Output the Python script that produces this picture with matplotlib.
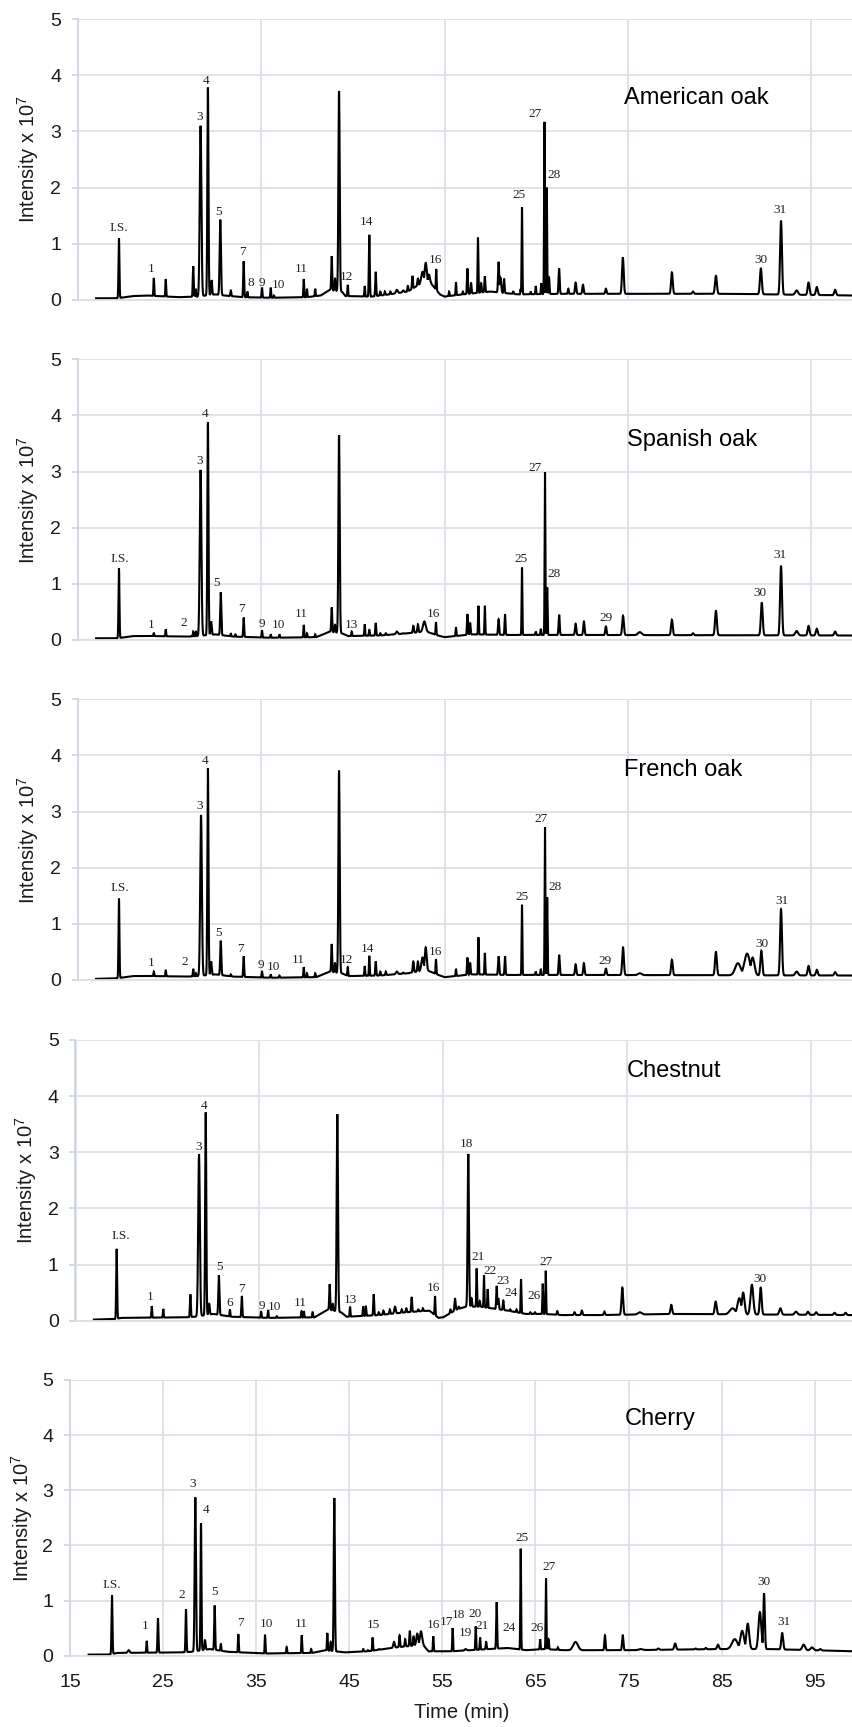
import numpy as np
import matplotlib
matplotlib.use("Agg")
import matplotlib.pyplot as plt

plt.rcParams['font.family'] = ['Liberation Sans', 'DejaVu Sans']
plt.rcParams['mathtext.fontset'] = 'custom'
plt.rcParams['mathtext.rm'] = 'Liberation Sans'
plt.rcParams['mathtext.it'] = 'Liberation Sans'

# ---------------- data (retention time in min, intensity x 10^7) ----------------
# American oak
am_rt = [19.5, 23.3, 24.6, 27.6, 27.85, 28.4, 29.2, 29.6, 30.55, 31.7, 33.1, 33.5, 35.1, 36.05, 36.4,
         39.65, 40.0, 40.9, 42.7, 43.06, 43.5, 44.45, 46.3, 46.8, 47.5, 48.0, 48.5, 49.1, 49.8, 50.5,
         51.0, 51.5, 52.1, 52.6, 52.95, 53.3, 54.1, 55.5, 56.25, 57.0, 57.5, 57.9, 58.65, 59.0, 59.4,
         60.9, 61.1, 61.5, 62.5, 63.3, 63.45, 64.4, 64.95, 65.55, 65.9, 66.15, 66.4, 67.5, 68.5, 69.3,
         70.1, 72.6, 74.45, 79.8, 82.1, 84.6, 89.5, 91.7, 93.4, 94.7, 95.6, 97.6]
am_h = [1.10, 0.39, 0.37, 0.60, 0.20, 3.10, 3.78, 0.35, 1.43, 0.17, 0.69, 0.15, 0.22, 0.22, 0.08,
        0.37, 0.20, 0.20, 0.78, 0.38, 3.72, 0.27, 0.25, 1.16, 0.50, 0.15, 0.15, 0.15, 0.18, 0.17,
        0.25, 0.43, 0.38, 0.50, 0.66, 0.45, 0.55, 0.15, 0.32, 0.15, 0.56, 0.30, 1.11, 0.30, 0.42,
        0.68, 0.40, 0.38, 0.15, 0.20, 1.65, 0.15, 0.25, 0.30, 3.17, 2.00, 0.40, 0.56, 0.20, 0.31,
        0.27, 0.20, 0.76, 0.49, 0.15, 0.43, 0.56, 1.41, 0.17, 0.31, 0.23, 0.18]
am_w = [0.05, 0.04, 0.04, 0.05, 0.04, 0.09, 0.06, 0.06, 0.07, 0.05, 0.05, 0.04, 0.04, 0.04, 0.04,
        0.04, 0.04, 0.04, 0.05, 0.05, 0.07, 0.04, 0.04, 0.05, 0.05, 0.05, 0.05, 0.05, 0.10, 0.08,
        0.05, 0.05, 0.06, 0.15, 0.12, 0.10, 0.04, 0.04, 0.04, 0.04, 0.05, 0.05, 0.04, 0.05, 0.05,
        0.06, 0.08, 0.05, 0.05, 0.03, 0.04, 0.04, 0.04, 0.04, 0.04, 0.04, 0.05, 0.06, 0.05, 0.07,
        0.07, 0.07, 0.09, 0.09, 0.08, 0.10, 0.10, 0.10, 0.15, 0.10, 0.10, 0.10]
am_bt = [17.0, 19.3, 21.0, 22.5, 26.0, 28.0, 30.0, 31.0, 33.0, 36.0, 40.0, 41.5, 42.5, 43.8, 44.2,
         47.0, 49.0, 51.0, 52.0, 53.5, 54.5, 55.0, 57.0, 60.0, 63.0, 68.0, 76.0, 86.0, 99.6]
am_bv = [0.03, 0.03, 0.07, 0.08, 0.05, 0.06, 0.10, 0.08, 0.05, 0.04, 0.05, 0.08, 0.18, 0.15, 0.07,
         0.06, 0.10, 0.15, 0.25, 0.30, 0.10, 0.06, 0.10, 0.15, 0.10, 0.11, 0.11, 0.11, 0.08]
am_lab = ['I.S.', '1', '3', '4', '5', '7', '8', '9', '10', '11', '12', '14', '16', '25', '27', '28', '30', '31']
am_lt = [19.5, 23.0, 28.26, 28.96, 30.34, 32.95, 33.93, 35.1, 36.9, 39.35, 44.33, 46.5, 53.97, 63.12, 64.87, 66.95, 89.5, 91.6]
am_lv = [1.28, 0.55, 3.26, 3.90, 1.57, 0.85, 0.30, 0.31, 0.27, 0.56, 0.41, 1.38, 0.72, 1.86, 3.31, 2.23, 0.72, 1.61]

# Spanish oak
sp_rt = [19.5, 23.3, 24.6, 27.6, 27.9, 28.4, 29.2, 29.55, 30.6, 31.7, 32.2, 33.1, 35.1, 36.05, 37.0,
         39.65, 40.0, 40.9, 42.7, 43.06, 43.5, 44.88, 46.3, 46.8, 47.5, 48.0, 48.6, 49.8, 50.5, 51.6,
         52.1, 52.8, 54.07, 56.25, 57.5, 57.8, 58.7, 59.4, 60.9, 61.6, 63.45, 64.95, 65.5, 65.96, 66.2,
         67.5, 69.3, 70.2, 72.6, 74.47, 76.3, 79.8, 82.1, 84.6, 89.6, 91.7, 93.4, 94.7, 95.6, 97.6]
sp_h = [1.28, 0.13, 0.19, 0.15, 0.15, 3.03, 3.88, 0.33, 0.85, 0.12, 0.10, 0.40, 0.17, 0.10, 0.10,
        0.27, 0.12, 0.10, 0.58, 0.27, 3.65, 0.15, 0.28, 0.18, 0.30, 0.12, 0.12, 0.15, 0.12, 0.25,
        0.28, 0.33, 0.32, 0.23, 0.46, 0.30, 0.61, 0.61, 0.37, 0.46, 1.29, 0.15, 0.20, 2.99, 0.94,
        0.45, 0.29, 0.33, 0.24, 0.43, 0.14, 0.36, 0.12, 0.52, 0.66, 1.32, 0.16, 0.25, 0.20, 0.15]
sp_w = [0.05, 0.04, 0.04, 0.04, 0.04, 0.09, 0.06, 0.06, 0.06, 0.04, 0.04, 0.05, 0.04, 0.04, 0.04,
        0.04, 0.04, 0.04, 0.05, 0.05, 0.07, 0.04, 0.04, 0.04, 0.05, 0.05, 0.05, 0.10, 0.06, 0.06,
        0.06, 0.15, 0.04, 0.04, 0.05, 0.05, 0.04, 0.04, 0.06, 0.05, 0.04, 0.04, 0.04, 0.04, 0.04,
        0.06, 0.07, 0.07, 0.07, 0.09, 0.20, 0.09, 0.08, 0.10, 0.10, 0.10, 0.15, 0.10, 0.10, 0.10]
sp_bt = [17.0, 19.3, 21.0, 23.0, 27.0, 28.0, 30.0, 32.0, 36.0, 41.0, 42.5, 43.8, 44.5, 48.0, 51.0,
         53.0, 54.5, 55.0, 58.0, 62.0, 66.0, 68.0, 99.6]
sp_bv = [0.03, 0.03, 0.07, 0.07, 0.06, 0.07, 0.10, 0.06, 0.04, 0.05, 0.15, 0.12, 0.07, 0.08, 0.12,
         0.15, 0.07, 0.05, 0.10, 0.09, 0.09, 0.09, 0.08]
sp_lab = ['I.S.', '1', '2', '3', '4', '5', '7', '9', '10', '11', '13', '16', '25', '27', '28', '29', '30', '31']
sp_lt = [19.54, 22.96, 26.56, 28.26, 28.88, 30.19, 32.84, 35.1, 36.9, 39.35, 44.88, 53.78, 63.34, 64.87, 66.95, 72.58, 89.4, 91.6]
sp_lv = [1.44, 0.27, 0.31, 3.18, 4.03, 1.02, 0.56, 0.29, 0.27, 0.46, 0.27, 0.46, 1.44, 3.06, 1.18, 0.40, 0.83, 1.52]

# French oak
fr_rt = [19.5, 23.3, 24.6, 27.6, 27.9, 28.45, 29.2, 29.55, 30.6, 31.7, 33.1, 35.1, 36.05, 37.0, 39.65,
         40.0, 40.9, 42.7, 43.06, 43.5, 44.45, 46.3, 46.8, 47.5, 48.0, 48.6, 49.8, 50.5, 51.6, 52.1,
         52.6, 52.95, 54.07, 56.25, 57.5, 57.8, 58.7, 59.4, 60.9, 61.6, 63.45, 64.95, 65.5, 65.96, 66.2,
         67.5, 69.3, 70.2, 72.6, 74.47, 76.3, 79.8, 84.6, 87.0, 88.0, 88.6, 89.55, 91.7, 93.4, 94.7,
         95.6, 97.6]
fr_h = [1.45, 0.15, 0.17, 0.20, 0.12, 2.94, 3.77, 0.33, 0.70, 0.10, 0.42, 0.15, 0.10, 0.08, 0.23,
        0.12, 0.12, 0.64, 0.30, 3.73, 0.23, 0.25, 0.43, 0.33, 0.15, 0.15, 0.15, 0.13, 0.33, 0.33,
        0.40, 0.58, 0.37, 0.20, 0.40, 0.30, 0.76, 0.48, 0.42, 0.42, 1.34, 0.15, 0.20, 2.72, 1.47,
        0.45, 0.28, 0.30, 0.21, 0.58, 0.12, 0.36, 0.50, 0.30, 0.47, 0.40, 0.52, 1.26, 0.15, 0.25,
        0.18, 0.14]
fr_w = [0.05, 0.04, 0.04, 0.04, 0.04, 0.09, 0.06, 0.06, 0.06, 0.04, 0.05, 0.04, 0.04, 0.04, 0.04,
        0.04, 0.04, 0.05, 0.05, 0.07, 0.04, 0.04, 0.04, 0.05, 0.05, 0.05, 0.10, 0.06, 0.06, 0.06,
        0.12, 0.10, 0.04, 0.04, 0.05, 0.05, 0.04, 0.04, 0.06, 0.05, 0.04, 0.04, 0.04, 0.04, 0.04,
        0.06, 0.07, 0.07, 0.07, 0.09, 0.20, 0.09, 0.10, 0.30, 0.30, 0.20, 0.10, 0.10, 0.15, 0.10,
        0.10, 0.10]
fr_bt = [17.0, 19.3, 21.0, 23.0, 27.0, 28.0, 30.0, 32.0, 36.0, 41.0, 42.5, 43.8, 44.5, 48.0, 51.0,
         53.0, 54.5, 55.0, 58.0, 62.0, 66.0, 68.0, 99.6]
fr_bv = [0.02, 0.03, 0.07, 0.07, 0.06, 0.07, 0.10, 0.06, 0.04, 0.05, 0.15, 0.12, 0.07, 0.08, 0.12,
         0.18, 0.08, 0.05, 0.10, 0.09, 0.09, 0.09, 0.08]
fr_lab = ['I.S.', '1', '2', '3', '4', '5', '7', '9', '10', '11', '12', '14', '16', '25', '27', '28', '29', '30', '31']
fr_lt = [19.54, 22.96, 26.7, 28.26, 28.88, 30.37, 32.77, 34.97, 36.4, 39.1, 44.33, 46.58, 53.97, 63.42, 65.49, 67.05, 72.5, 89.6, 91.77]
fr_lv = [1.63, 0.30, 0.32, 3.10, 3.90, 0.84, 0.55, 0.27, 0.24, 0.36, 0.36, 0.56, 0.50, 1.48, 2.86, 1.65, 0.34, 0.65, 1.41]

# Chestnut
ch_rt = [19.48, 23.3, 24.55, 27.5, 28.44, 29.17, 29.55, 30.6, 31.8, 33.1, 35.2, 35.96, 36.9, 39.6, 39.85,
         40.8, 42.66, 43.0, 43.49, 44.87, 46.3, 46.6, 47.45, 48.0, 48.5, 49.2, 49.77, 50.5, 51.0, 51.58,
         52.3, 52.8, 54.12, 55.8, 56.3, 56.7, 57.74, 58.1, 58.65, 59.0, 59.45, 59.85, 60.83, 61.0, 61.55,
         62.3, 63.0, 63.48, 64.5, 65.0, 65.84, 66.17, 67.43, 69.3, 70.1, 72.55, 74.5, 76.4, 79.83, 84.66,
         86.5, 87.23, 87.65, 88.6, 89.56, 91.7, 93.4, 94.7, 95.6, 97.6, 98.8]
ch_h = [1.28, 0.26, 0.21, 0.47, 2.97, 3.71, 0.30, 0.81, 0.20, 0.44, 0.16, 0.19, 0.08, 0.17, 0.17,
        0.15, 0.65, 0.30, 3.68, 0.25, 0.26, 0.25, 0.47, 0.15, 0.18, 0.20, 0.25, 0.20, 0.22, 0.42,
        0.20, 0.22, 0.44, 0.20, 0.39, 0.25, 2.97, 0.40, 0.93, 0.35, 0.81, 0.56, 0.62, 0.40, 0.36,
        0.20, 0.20, 0.74, 0.15, 0.15, 0.66, 0.89, 0.17, 0.15, 0.18, 0.16, 0.59, 0.15, 0.28, 0.34,
        0.22, 0.40, 0.50, 0.64, 0.59, 0.22, 0.16, 0.16, 0.15, 0.14, 0.14]
ch_w = [0.05, 0.04, 0.04, 0.05, 0.09, 0.06, 0.06, 0.06, 0.04, 0.05, 0.04, 0.04, 0.04, 0.04, 0.04,
        0.04, 0.05, 0.05, 0.07, 0.04, 0.04, 0.04, 0.05, 0.05, 0.05, 0.05, 0.08, 0.05, 0.05, 0.05,
        0.05, 0.05, 0.04, 0.05, 0.06, 0.05, 0.07, 0.05, 0.04, 0.05, 0.04, 0.04, 0.05, 0.06, 0.05,
        0.05, 0.05, 0.04, 0.05, 0.05, 0.04, 0.04, 0.05, 0.07, 0.07, 0.07, 0.09, 0.20, 0.09, 0.10,
        0.30, 0.20, 0.15, 0.15, 0.10, 0.12, 0.15, 0.10, 0.10, 0.10, 0.10]
ch_bt = [17.0, 19.3, 20.0, 27.0, 28.0, 30.0, 32.0, 36.0, 41.0, 42.5, 43.9, 44.5, 48.0, 51.0, 53.5,
         54.5, 55.0, 56.5, 57.5, 59.0, 62.0, 64.0, 66.0, 68.0, 72.0, 80.0, 99.6]
ch_bv = [0.02, 0.03, 0.05, 0.06, 0.07, 0.12, 0.07, 0.05, 0.06, 0.20, 0.15, 0.07, 0.10, 0.15, 0.18,
         0.05, 0.06, 0.20, 0.25, 0.25, 0.18, 0.12, 0.12, 0.10, 0.10, 0.12, 0.10]
ch_lab = ['I.S.', '1', '3', '4', '5', '6', '7', '9', '10', '11', '13', '16', '18', '21', '22', '23', '24', '26', '27', '30']
ch_lt = [19.92, 23.1, 28.44, 28.98, 30.72, 31.8, 33.05, 35.26, 36.64, 39.43, 44.87, 53.93, 57.57, 58.83, 60.1, 61.48, 62.35, 64.89, 66.17, 89.5]
ch_lv = [1.50, 0.42, 3.10, 3.83, 0.96, 0.31, 0.56, 0.27, 0.25, 0.31, 0.36, 0.59, 3.14, 1.13, 0.89, 0.71, 0.49, 0.44, 1.04, 0.74]

# Cherry
cy_rt = [19.51, 21.3, 23.24, 24.45, 27.46, 28.46, 29.07, 29.5, 30.54, 31.2, 33.08, 35.95, 38.27, 39.89, 40.9,
         42.64, 43.0, 43.39, 46.5, 47.0, 47.5, 48.2, 48.8, 49.8, 50.4, 51.0, 51.5, 51.9, 52.3, 52.7,
         54.02, 56.1, 57.5, 58.58, 59.05, 59.7, 60.83, 62.0, 63.41, 65.5, 66.13, 66.4, 67.4, 69.3, 72.46,
         74.37, 76.3, 78.2, 80.0, 82.2, 83.3, 84.6, 86.4, 87.2, 87.8, 89.1, 89.55, 91.5, 93.8, 94.7, 95.6]
cy_h = [1.10, 0.10, 0.27, 0.68, 0.84, 2.87, 2.40, 0.28, 0.91, 0.22, 0.39, 0.38, 0.16, 0.37, 0.12,
        0.41, 0.25, 2.86, 0.12, 0.10, 0.33, 0.12, 0.12, 0.25, 0.37, 0.30, 0.45, 0.35, 0.40, 0.44,
        0.35, 0.50, 0.12, 0.53, 0.33, 0.25, 0.97, 0.14, 1.94, 0.30, 1.40, 0.30, 0.15, 0.25, 0.37,
        0.37, 0.12, 0.13, 0.22, 0.13, 0.14, 0.20, 0.30, 0.45, 0.58, 0.79, 1.13, 0.41, 0.20, 0.15, 0.12]
cy_w = [0.05, 0.10, 0.04, 0.05, 0.05, 0.07, 0.05, 0.06, 0.05, 0.04, 0.04, 0.04, 0.04, 0.04, 0.04,
        0.04, 0.04, 0.06, 0.04, 0.04, 0.04, 0.05, 0.05, 0.08, 0.05, 0.05, 0.05, 0.05, 0.10, 0.12,
        0.04, 0.04, 0.10, 0.04, 0.04, 0.05, 0.05, 0.05, 0.04, 0.04, 0.04, 0.05, 0.05, 0.25, 0.06,
        0.07, 0.20, 0.10, 0.10, 0.08, 0.08, 0.10, 0.30, 0.20, 0.15, 0.15, 0.08, 0.10, 0.15, 0.15, 0.10]
cy_bt = [17.0, 19.3, 20.0, 27.0, 28.0, 30.0, 32.0, 36.0, 41.0, 42.5, 44.5, 47.0, 50.0, 52.9, 53.5,
         56.0, 60.0, 62.0, 64.0, 66.0, 68.0, 75.0, 85.0, 90.0, 99.2]
cy_bv = [0.02, 0.02, 0.05, 0.06, 0.07, 0.12, 0.07, 0.04, 0.05, 0.10, 0.06, 0.08, 0.15, 0.20, 0.08,
         0.08, 0.12, 0.14, 0.10, 0.12, 0.10, 0.10, 0.12, 0.12, 0.08]
cy_lab = ['I.S.', '1', '2', '3', '4', '5', '7', '10', '11', '15', '16', '17', '18', '19', '20', '21', '24', '25', '26', '27', '30', '31']
cy_lt = [19.51, 23.1, 27.0, 28.21, 29.57, 30.57, 33.3, 36.05, 39.89, 47.58, 54.02, 55.46, 56.7, 57.43, 58.5, 59.22, 62.19, 63.59, 65.13, 66.48, 89.55, 91.7]
cy_lv = [1.28, 0.54, 1.10, 3.11, 2.65, 1.15, 0.60, 0.57, 0.57, 0.56, 0.56, 0.62, 0.73, 0.42, 0.76, 0.54, 0.50, 2.14, 0.51, 1.61, 1.34, 0.62]

titles = ['American oak', 'Spanish oak', 'French oak', 'Chestnut', 'Cherry']
y_ticks = [0, 1, 2, 3, 4, 5]
x_ticks = [15, 25, 35, 45, 55, 65, 75, 85, 95]

series = [
    (am_rt, am_h, am_w, am_bt, am_bv, am_lab, am_lt, am_lv),
    (sp_rt, sp_h, sp_w, sp_bt, sp_bv, sp_lab, sp_lt, sp_lv),
    (fr_rt, fr_h, fr_w, fr_bt, fr_bv, fr_lab, fr_lt, fr_lv),
    (ch_rt, ch_h, ch_w, ch_bt, ch_bv, ch_lab, ch_lt, ch_lv),
    (cy_rt, cy_h, cy_w, cy_bt, cy_bv, cy_lab, cy_lt, cy_lv),
]

# ---------------- layout (pixels) ----------------
FW, FH = 853, 1727
# left px, top px (y=5), bottom px (y=0), px per min, ylabel x px, title (x px, y px), grid step
layout = [
    (77.7, 19.0, 300.0, 9.17, 28.3, (624, 98), 20),
    (77.7, 359.3, 640.0, 9.17, 28.3, (627, 440), 20),
    (77.7, 699.3, 980.0, 9.17, 28.3, (624, 770), 20),
    (75.5, 1040.0, 1320.7, 9.19, 25.8, (627, 1071), 20),
    (70.0, 1380.0, 1655.7, 9.31, 22.5, (625, 1419), 10),
]

GRID = '#D9DEE7'
SPINE = '#CDD3DD'

fig = plt.figure(figsize=(FW / 100, FH / 100), dpi=100)


def trace(rt, h, w, bt, bv, t0, t1):
    t = np.arange(t0, t1, 0.005)
    base = np.interp(t, bt, bv)
    y = base.copy()
    for r, hh, ww in zip(rt, h, w):
        amp = hh - np.interp(r, bt, bv)
        y = np.maximum(y, base + amp * np.exp(-0.5 * ((t - r) / ww) ** 2))
    return t, y


for i, ((rt, h, w, bt, bv, lab, lt, lv), (lpx, tpx, bpx, ppm, ylx, tpos, gstep)) in enumerate(zip(series, layout)):
    xmax = 15 + (FW - lpx) / ppm
    ax = fig.add_axes([lpx / FW, 1 - bpx / FH, 1 - lpx / FW, (bpx - tpx) / FH])
    ax.set_xlim(15, xmax)
    ax.set_ylim(0, 5)
    ax.set_yticks(y_ticks)
    ax.set_xticks(np.arange(15, 100, gstep))
    ax.grid(True, color=GRID, linewidth=1.2)
    ax.set_axisbelow(True)
    for s in ['top', 'right']:
        ax.spines[s].set_visible(False)
    ax.spines['left'].set_color(SPINE)
    ax.spines['left'].set_linewidth(1.2)
    ax.spines['bottom'].set_color(GRID)
    ax.spines['bottom'].set_linewidth(1.2)
    ax.tick_params(axis='y', length=4.5, width=1.2, color=SPINE, labelsize=14, pad=7.5, labelcolor='#1a1a1a')
    if i == 4:
        ax.tick_params(axis='x', length=0, labelsize=14, pad=13, labelcolor='#1a1a1a')
        ax.set_xticklabels([str(v) for v in x_ticks])
    else:
        ax.tick_params(axis='x', length=0, labelbottom=False)

    t, y = trace(rt, h, w, bt, bv, bt[0], min(bt[-1], xmax))
    ax.plot(t, y, color='black', linewidth=1.5, solid_joinstyle='miter', clip_on=True)

    for s, xx, yy in zip(lab, lt, lv):
        ax.text(xx, yy, s, ha='center', va='center', fontsize=9.5,
                family=['Liberation Serif', 'DejaVu Serif'], color='#222222')

    fig.text(tpos[0] / FW, 1 - tpos[1] / FH, titles[i], ha='left', va='center', fontsize=17, color='black')
    fig.text(ylx / FW, 1 - (tpx + bpx) / 2 / FH, r'Intensity x 10$^{7}$', rotation=90,
             ha='center', va='center', fontsize=14.5, color='#1a1a1a')

fig.text(461.5 / FW, 1 - 1713 / FH, 'Time (min)', ha='center', va='center', fontsize=14.5, color='#1a1a1a')

fig.savefig('out.png', dpi=100)
